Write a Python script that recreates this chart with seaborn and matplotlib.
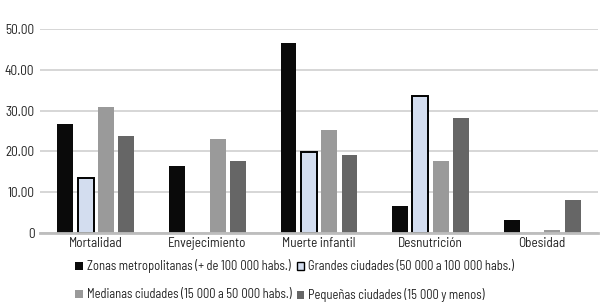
import numpy as np
import pandas as pd
import matplotlib
matplotlib.use("Agg")
import matplotlib.pyplot as plt
import seaborn as sns

categories = ["Mortalidad", "Envejecimiento", "Muerte infantil", "Desnutrición", "Obesidad"]
series_names = [
    "Zonas metropolitanas (+ de 100\u202f000 habs.)",
    "Grandes ciudades (50\u202f000 a 100\u202f000 habs.)",
    "Medianas ciudades (15\u202f000 a 50\u202f000 habs.)",
    "Pequeñas ciudades (15\u202f000 y menos)",
]
zonas = [26.8, 16.4, 46.7, 6.6, 3.1]
grandes = [13.4, np.nan, 19.8, 33.5, np.nan]
medianas = [31.0, 23.1, 25.3, 17.7, 0.7]
pequenas = [23.8, 17.7, 19.1, 28.2, 8.1]
yticks = [0, 10, 20, 30, 40, 50]
ytick_labels = ["0", "10.00", "20.00", "30.00", "40.00", "50.00"]
colors = ["#0a0a0a", "#d3ddef", "#9a9a9a", "#666666"]

sns.set_theme(style="white")
plt.rcParams["font.family"] = ["Barlow Semi Condensed", "Lato", "DejaVu Sans"]

rows = []
for name, vals in zip(series_names, [zonas, grandes, medianas, pequenas]):
    for c, v in zip(categories, vals):
        rows.append({"cat": c, "serie": name, "val": v})
df = pd.DataFrame(rows)

fig = plt.figure(figsize=(6.06, 3.05), dpi=100)
ax = fig.add_axes([40 / 606, (305 - 232.7) / 305, 558 / 606, (232.7 - 29.3) / 305])
sns.barplot(data=df, x="cat", y="val", hue="serie", hue_order=series_names,
            palette=colors, width=0.73, gap=0.22, ax=ax, saturation=1,
            order=categories, errorbar=None, linewidth=0)

for i, cont in enumerate(ax.containers):
    for p in cont:
        if i == 1:
            p.set_edgecolor("#000000")
            p.set_linewidth(1.4)
        else:
            p.set_linewidth(0)

ax.set_ylim(0, 50)
ax.set_xlim(-0.5, 4.5)
ax.set_yticks(yticks)
ax.set_yticklabels(ytick_labels)
ax.yaxis.grid(True, color="#d0d0d0", linewidth=1.2)
ax.set_axisbelow(True)
for s in ["top", "right", "left"]:
    ax.spines[s].set_visible(False)
ax.spines["bottom"].set_color("#bdbdbd")
ax.spines["bottom"].set_linewidth(2)
ax.set_xlabel("")
ax.set_ylabel("")
ax.tick_params(axis="x", length=0, labelsize=9.5, colors="#222222", pad=3)
ax.tick_params(axis="y", length=0, labelsize=9.5, colors="#222222", pad=4)

handles, labels = ax.get_legend_handles_labels()
if ax.legend_:
    ax.legend_.remove()
for i, h in enumerate(handles):
    if i == 1:
        h.set_edgecolor("#000000")
        h.set_linewidth(1.0)
order = [0, 2, 1, 3]
leg = fig.legend([handles[i] for i in order], [labels[i] for i in order],
                 ncol=2, loc="upper left",
                 bbox_to_anchor=(70 / 606, 1 - 254 / 305), frameon=False,
                 fontsize=9, handlelength=0.6, handleheight=0.6,
                 handletextpad=0.35, columnspacing=0.4, labelspacing=1.2,
                 borderaxespad=0)
for t in leg.get_texts():
    t.set_color("#222222")

fig.savefig("out.png", dpi=100)
